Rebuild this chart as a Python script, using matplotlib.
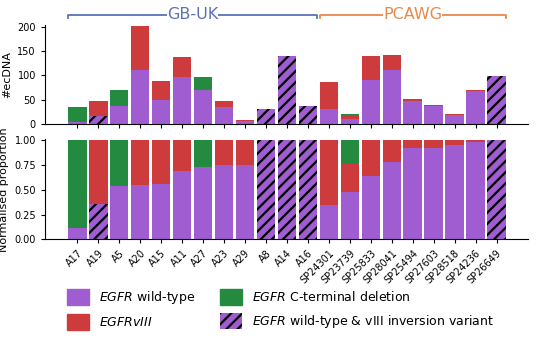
import matplotlib.pyplot as plt
import numpy as np

samples = ["A17", "A19", "A5", "A20", "A15", "A11", "A27", "A23", "A29", "A8", "A14", "A16",
           "SP24301", "SP23739", "SP25833", "SP28041", "SP25494", "SP27603", "SP28518",
           "SP24236", "SP26649"]
wild_type = [4, 0, 38, 111, 49, 96, 70, 36, 6, 0, 0, 0, 30, 10, 90, 112, 48, 37, 19, 69, 0]
viii = [0, 31, 0, 92, 39, 43, 0, 12, 2, 0, 0, 0, 56, 6, 50, 31, 4, 3, 1, 1, 0]
cterm = [31, 0, 32, 0, 0, 0, 26, 0, 0, 0, 0, 0, 0, 5, 0, 0, 0, 0, 0, 0, 0]
inversion = [0, 17, 0, 0, 0, 0, 0, 0, 0, 31, 140, 38, 0, 0, 0, 0, 0, 0, 0, 0, 98]
n_gbuk = 12

purple = "#a05dd2"
red = "#cd3b3d"
green = "#238a3f"

plt.rcParams["hatch.linewidth"] = 1.6
plt.rcParams["font.size"] = 7

wt = np.array(wild_type, float)
v3 = np.array(viii, float)
ct = np.array(cterm, float)
inv = np.array(inversion, float)
total = wt + v3 + ct + inv
x = np.arange(len(samples))

fig = plt.figure(figsize=(5.54, 3.48), dpi=100)
ax1 = fig.add_axes([0.081, 0.6437, 0.872, 0.2857])
ax2 = fig.add_axes([0.081, 0.3124, 0.872, 0.2874])


def stack(ax, a, b, c, d):
    w = 0.88
    ax.bar(x, d, w, color=purple, edgecolor="black", linewidth=0, hatch="///")
    ax.bar(x, a, w, bottom=d, color=purple, linewidth=0)
    ax.bar(x, b, w, bottom=d + a, color=red, linewidth=0)
    ax.bar(x, c, w, bottom=d + a + b, color=green, linewidth=0)


stack(ax1, wt, v3, ct, inv)
stack(ax2, wt / total, v3 / total, ct / total, inv / total)

for ax in (ax1, ax2):
    ax.spines["top"].set_visible(False)
    ax.spines["right"].set_visible(False)
    ax.set_xlim(-1.55, 21.5)
    ax.set_xticks(x)
    ax.tick_params(length=3)

ax1.set_ylim(0, 205)
ax1.set_yticks([0, 50, 100, 150, 200])
ax1.set_xticklabels([])
ax1.set_ylabel("#ecDNA", fontsize=8)

ax2.set_ylim(0, 1.01)
ax2.set_yticks([0, 0.25, 0.5, 0.75, 1.0])
ax2.set_yticklabels(["0.00", "0.25", "0.50", "0.75", "1.00"])
ax2.set_xticklabels(samples, rotation=45, ha="right", rotation_mode="anchor")
ax2.set_ylabel("Normalised proportion", fontsize=8)
fig.align_ylabels([ax1, ax2])

# cohort brackets above the top panel
tr = ax1.get_xaxis_transform()
for lo, hi, name, col in [(-0.44, n_gbuk - 0.56, "GB-UK", "#5b72b6"),
                          (n_gbuk - 0.44, len(samples) - 0.56, "PCAWG", "#e8894c")]:
    ax1.plot([lo, lo, hi, hi], [1.065, 1.1, 1.1, 1.065], color=col, lw=1.3,
             transform=tr, clip_on=False)
    ax1.text((lo + hi) / 2, 1.1, name, color=col, fontsize=11.5, ha="center",
             va="center", transform=tr,
             bbox=dict(facecolor="white", edgecolor="none", pad=0))

handles = [plt.Rectangle((0, 0), 1, 1, color=purple),
           plt.Rectangle((0, 0), 1, 1, color=red),
           plt.Rectangle((0, 0), 1, 1, color=green),
           plt.Rectangle((0, 0), 1, 1, facecolor=purple, edgecolor="black",
                         linewidth=0, hatch="///")]
labels = [r"$\mathit{EGFR}$ wild-type", r"$\mathit{EGFRvIII}$",
          r"$\mathit{EGFR}$ C-terminal deletion",
          r"$\mathit{EGFR}$ wild-type & vIII inversion variant"]
fig.legend(handles, labels, ncol=2, loc="upper left",
           bbox_to_anchor=(67 / 554, 1 - 289 / 348), frameon=False, fontsize=9,
           borderpad=0, borderaxespad=0, handlelength=1.76, handleheight=1.6,
           labelspacing=0.6, handletextpad=0.8, columnspacing=2.0)

fig.savefig("out.png", dpi=100)
